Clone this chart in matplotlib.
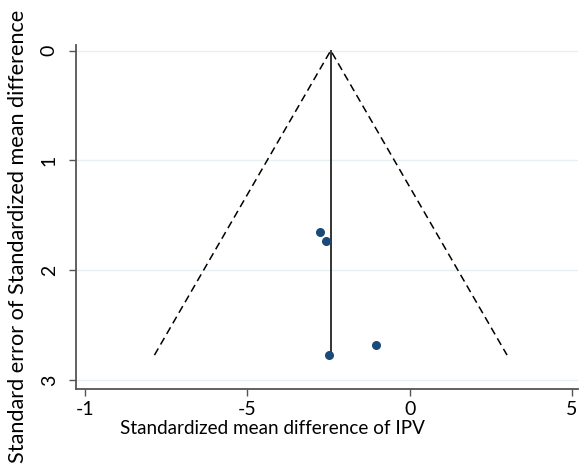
import matplotlib.pyplot as plt
import numpy as np

# study effects and standard errors
smd = [-2.77, -2.59, -1.05, -2.48]
se = [1.65, 1.73, 2.68, 2.77]
pooled = -2.43
se_max = 2.77

xticks = [-10, -5, 0, 5]
xtick_labels = ['-1', '-5', '0', '5']
yticks = [0, 1, 2, 3]

plt.rcParams['font.family'] = ['Lato', 'DejaVu Sans']

fig = plt.figure(figsize=(5.79, 4.74), dpi=100)
ax = fig.add_axes([0.131, 0.179, 0.867, 0.726])

# grid
for t in yticks:
    ax.axhline(t, color='#e6f0f2', lw=1, zorder=0)

# pseudo 95% limits
ax.plot([pooled - 1.96 * se_max, pooled, pooled + 1.96 * se_max], [se_max, 0, se_max],
        color='black', ls=(0, (5, 3)), lw=1.1)
ax.plot([pooled, pooled], [0, se_max], color='#333333', lw=1.4)

ax.scatter(smd, se, s=30, color='#1a4a7a', zorder=3)

ax.set_xlim(-10.28, 5.18)
ax.set_ylim(3.08, -0.05)
ax.set_xticks(xticks)
ax.set_xticklabels(xtick_labels)
ax.set_yticks(yticks)
ax.tick_params(axis='both', direction='out', length=5, width=1, color='#555555', labelsize=14)
ax.tick_params(axis='y', labelrotation=90, pad=8)
for lab in ax.get_yticklabels():
    lab.set_va('center')

for s in ['top', 'right']:
    ax.spines[s].set_visible(False)
for s in ['left', 'bottom']:
    ax.spines[s].set_color('#555555')
    ax.spines[s].set_linewidth(1.3)

ax.set_xlabel('Standardized mean difference of IPV', fontsize=13.6)
ax.xaxis.set_label_coords(0.392, -0.115)
ax.xaxis.label.set_va('center')
ax.set_ylabel('Standard error of Standardized mean difference', fontsize=15.6)
ax.yaxis.set_label_coords(-0.115, 0.445)
ax.yaxis.label.set_va('center')

fig.savefig('out.png', dpi=100)
